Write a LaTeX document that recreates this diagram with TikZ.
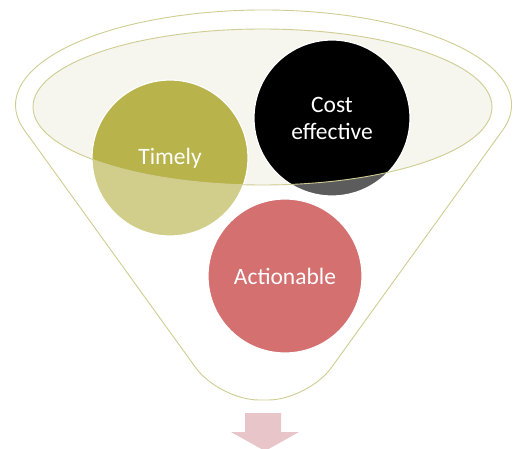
\documentclass[tikz,border=0pt]{standalone}
\usepackage{fontspec}
\setmainfont{Carlito}
\definecolor{olive}{HTML}{B8B34A}
\definecolor{rim}{HTML}{CFCD92}
\definecolor{mouth}{HTML}{F6F5EE}
\definecolor{rouge}{HTML}{D4706F}
\definecolor{pinkarrow}{HTML}{E8C5C8}
\tikzset{
  bubble/.style={circle, draw=white, line width=1.2pt, minimum size=156pt,
    inner sep=0pt, align=center, text=white, font=\fontsize{23.5}{27}\selectfont}
}
\begin{document}
\begin{tikzpicture}[x=1pt,y=1pt]
\useasboundingbox (0,0) rectangle (514,448);
\fill[white] (24,318.4) arc[start angle=195, end angle=-15, x radius=248, y radius=95]
[rounded corners=40] -- (308,48) -- (219,48) [sharp corners] -- cycle; % entonnoir
\fill[mouth] (262.5,341) ellipse (229.5 and 78); % ouverture
%
\node[bubble, fill=olive] (timely) at (170,290) {Timely};
\node[bubble, fill=black] (cost) at (332,330) {Cost\\effective};
%
\fill[white, opacity=0.36, even odd rule] (24,318.4) arc[start angle=195, end angle=-15, x radius=248, y radius=95]
[rounded corners=40] -- (308,48) -- (219,48) [sharp corners] -- cycle
(262.5,341) ellipse (229.5 and 78); % voile
%
\node[bubble, fill=rouge, minimum size=154pt] (actionable) at (285,172) {Actionable};
%
\draw[rim, line width=0.9pt] (262.5,341) ellipse (229.5 and 78);
\draw[rim, line width=0.9pt] (24,318.4) arc[start angle=195, end angle=-15, x radius=248, y radius=95]
[rounded corners=40] -- (308,48) -- (219,48) [sharp corners] -- cycle; % contour
%
\fill[pinkarrow] (245,35) -- (281,35) -- (281,16) -- (299,16) -- (265,-3)
-- (231,16) -- (245,16) -- cycle; % fleche
\end{tikzpicture}
\end{document}
